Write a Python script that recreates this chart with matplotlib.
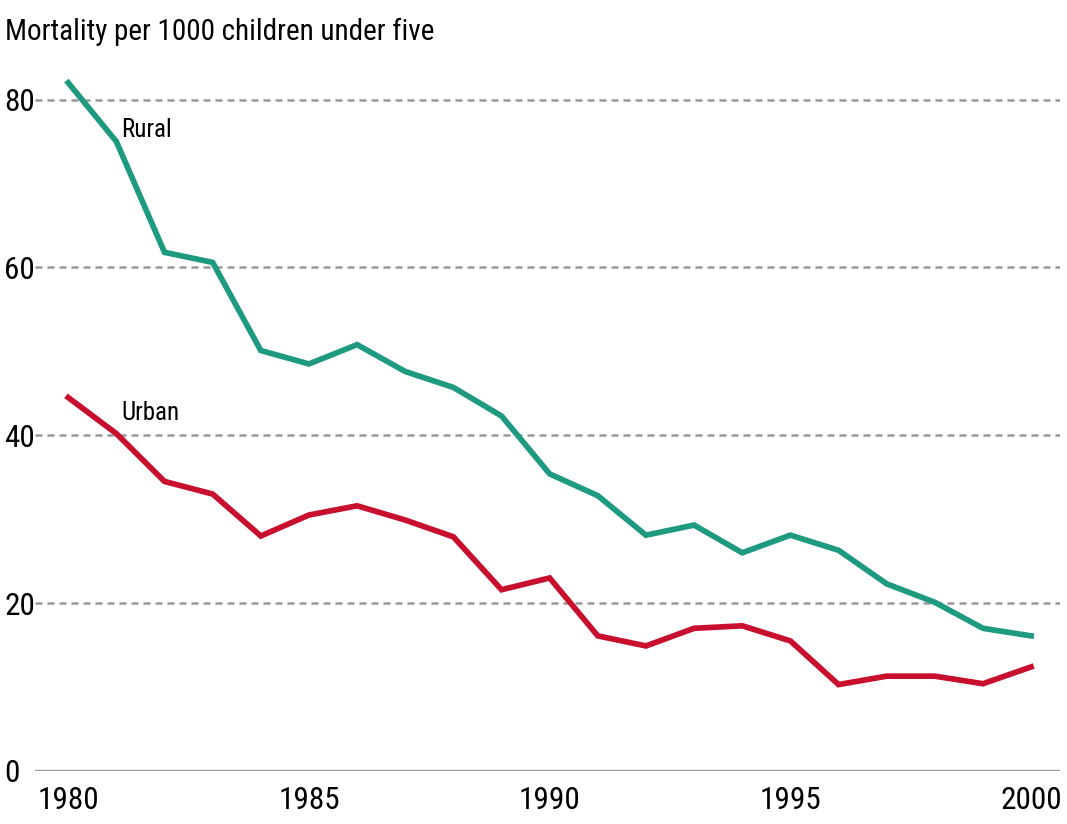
import matplotlib
matplotlib.use('Agg')
from matplotlib import pyplot as plt

years = list(range(1980, 2001))
rural = [82, 75, 61.8, 60.6, 50.1, 48.5, 50.8, 47.6, 45.7, 42.3, 35.4,
         32.8, 28.1, 29.3, 26.0, 28.1, 26.3, 22.3, 20.1, 17.0, 16.1]
urban = [44.5, 40.2, 34.5, 33.0, 28.0, 30.5, 31.6, 29.9, 27.9, 21.6, 23.0,
         16.1, 14.9, 17.0, 17.3, 15.5, 10.3, 11.3, 11.3, 10.4, 12.4]
yticks = [0, 20, 40, 60, 80]
xticks = [1980, 1985, 1990, 1995, 2000]

# condensed face if there is one, else Arial-like Liberation Sans
plt.rcParams['font.family'] = ['Roboto Condensed', 'Liberation Sans Narrow',
                               'Liberation Sans', 'DejaVu Sans']

fig = plt.figure(figsize=(10.67, 8.24), dpi=100)
W, H = 1067, 824
ax = fig.add_axes([35 / W, (H - 771) / H, (1060 - 35) / W, (771 - 66) / H])

ax.plot(years, rural, color='#1d9a7f', lw=4.1, solid_joinstyle='miter')
ax.plot(years, urban, color='#c8102e', lw=4.1, solid_joinstyle='miter')

for v in yticks[1:]:
    ax.axhline(v, color='#999999', lw=1.8, ls=(0, (2.8, 2.0)), zorder=0)
ax.axhline(0, color='#999999', lw=2.4, zorder=0)

ax.text(1981.1, 76.4, 'Rural', fontsize=18, va='center', ha='left')
ax.text(1981.1, 42.7, 'Urban', fontsize=18, va='center', ha='left')

ax.set_xlim(1979.31, 2000.6)
ax.set_ylim(0, 84)
ax.set_xticks(xticks)
ax.set_xticklabels([str(x) for x in xticks], fontsize=22.5)
ax.set_yticks(yticks)
ax.set_yticklabels([str(y) for y in yticks], fontsize=22.5, ha='left')
ax.tick_params(axis='y', length=0, pad=22)
ax.tick_params(axis='x', length=0, pad=11)
for s in ax.spines.values():
    s.set_visible(False)

fig.text(5 / W, 1 - 32 / H, 'Mortality per 1000 children under five',
         fontsize=21, va='center', ha='left')

fig.savefig('out.png', dpi=100)
